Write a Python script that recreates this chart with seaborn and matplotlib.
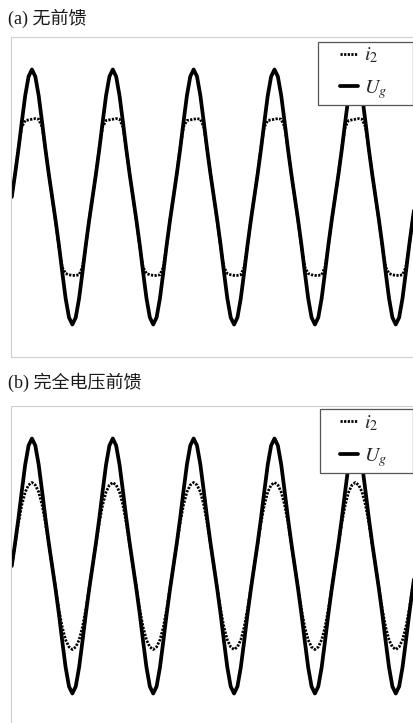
import numpy as np
import pandas as pd
import matplotlib
matplotlib.use("Agg")
import matplotlib.pyplot as plt
from matplotlib.patches import Rectangle
import seaborn as sns

# sample step: 15 deg of a 50 Hz period (s)
DT = 0.02 / 24

# grid voltage U_g, per unit of its peak (5 periods, same in both panels)
ug = [
    0, .18, .375, .59, .795, .945, 1.0, .945, .795, .59, .375, .18,
    0, -.18, -.375, -.59, -.795, -.945, -1.0, -.945, -.795, -.59, -.375, -.18,
    0, .18, .375, .59, .795, .945, 1.0, .945, .795, .59, .375, .18,
    0, -.18, -.375, -.59, -.795, -.945, -1.0, -.945, -.795, -.59, -.375, -.18,
    0, .18, .375, .59, .795, .945, 1.0, .945, .795, .59, .375, .18,
    0, -.18, -.375, -.59, -.795, -.945, -1.0, -.945, -.795, -.59, -.375, -.18,
    0, .18, .375, .59, .795, .945, 1.0, .945, .795, .59, .375, .18,
    0, -.18, -.375, -.59, -.795, -.945, -1.0, -.945, -.795, -.59, -.375, -.18,
    0, .18, .375, .59, .795, .945, 1.0, .945, .795, .59, .375, .18,
    0, -.18, -.375, -.59, -.795, -.945, -1.0, -.945, -.795, -.59, -.375, -.18,
    0,
]

# (a) no feed-forward: grid current i_2, flattened tops
i2_a = [
    0, .19, .39, .55, .6, .605, .61, .615, .61, .55, .38, .18,
    0, -.19, -.39, -.55, -.6, -.61, -.615, -.615, -.61, -.55, -.38, -.18,
    0, .19, .39, .55, .6, .605, .61, .615, .61, .55, .38, .18,
    0, -.19, -.39, -.55, -.6, -.61, -.615, -.615, -.61, -.55, -.38, -.18,
    0, .19, .39, .55, .6, .605, .61, .615, .61, .55, .38, .18,
    0, -.19, -.39, -.55, -.6, -.61, -.615, -.615, -.61, -.55, -.38, -.18,
    0, .19, .39, .55, .6, .605, .61, .615, .61, .55, .38, .18,
    0, -.19, -.39, -.55, -.6, -.61, -.615, -.615, -.61, -.55, -.38, -.18,
    0, .19, .39, .55, .6, .605, .61, .615, .61, .55, .38, .18,
    0, -.19, -.39, -.55, -.6, -.61, -.615, -.615, -.61, -.55, -.38, -.18,
    0,
]

# (b) full voltage feed-forward: grid current i_2
i2_b = [
    0, .17, .34, .48, .58, .635, .655, .635, .58, .48, .34, .17,
    0, -.17, -.34, -.48, -.58, -.635, -.655, -.635, -.58, -.48, -.34, -.17,
    0, .17, .34, .48, .58, .635, .655, .635, .58, .48, .34, .17,
    0, -.17, -.34, -.48, -.58, -.635, -.655, -.635, -.58, -.48, -.34, -.17,
    0, .17, .34, .48, .58, .635, .655, .635, .58, .48, .34, .17,
    0, -.17, -.34, -.48, -.58, -.635, -.655, -.635, -.58, -.48, -.34, -.17,
    0, .17, .34, .48, .58, .635, .655, .635, .58, .48, .34, .17,
    0, -.17, -.34, -.48, -.58, -.635, -.655, -.635, -.58, -.48, -.34, -.17,
    0, .17, .34, .48, .58, .635, .655, .635, .58, .48, .34, .17,
    0, -.17, -.34, -.48, -.58, -.635, -.655, -.635, -.58, -.48, -.34, -.17,
    0,
]

panel_titles = ["(a) 无前馈", "(b) 完全电压前馈"]
series_labels = [r"$i_2$", r"$U_g$"]

sns.set_style("white")
plt.rcParams["font.family"] = ["Liberation Serif", "Noto Sans CJK SC"]
plt.rcParams["mathtext.fontset"] = "stix"

W, H = 414, 723
fig = plt.figure(figsize=(W / 100, H / 100), dpi=100)

t = np.arange(len(ug)) * DT


def px_axes(left, top, right, bottom):
    return fig.add_axes([left / W, 1 - bottom / H, (right - left) / W, (bottom - top) / H])


def draw_panel(ax, i2, title, title_y, box):
    df = pd.DataFrame({"t": t, "i2": i2, "ug": ug})
    sns.lineplot(data=df, x="t", y="i2", ax=ax, color="black", lw=2.0,
                 linestyle=(0, (0.8, 0.5)), label=series_labels[0], estimator=None)
    sns.lineplot(data=df, x="t", y="ug", ax=ax, color="black", lw=2.7,
                 label=series_labels[1], estimator=None)
    ax.set_xlim(-0.00018, 0.1005)
    ax.set_ylim(-1.255, 1.255)
    ax.set_xticks([])
    ax.set_yticks([])
    ax.set_xlabel("")
    ax.set_ylabel("")
    for sp in ax.spines.values():
        sp.set_color("#cfcfcf")
        sp.set_linewidth(0.8)

    # legend: wide frame drawn separately, entries placed inside it
    x0, y0, x1, y1 = box
    ax.add_patch(Rectangle((x0 / W, 1 - y1 / H), (x1 - x0) / W, (y1 - y0) / H,
                           transform=fig.transFigure, facecolor="white",
                           edgecolor="#555555", lw=0.9, zorder=5, clip_on=False))
    leg = ax.legend(loc="center left", bbox_to_anchor=(340 / W, 1 - (y0 + y1) / 2 / H),
                    bbox_transform=fig.transFigure, fontsize=14.5, frameon=False,
                    handlelength=0.9, handletextpad=0.3, borderpad=0,
                    labelspacing=0.62, borderaxespad=0)
    leg.set_zorder(6)
    fig.text(8 / W, 1 - title_y / H, title, fontsize=13, color="#1a1a1a",
             ha="left", va="center")


ax_a = px_axes(11, 37, 418, 357)
ax_b = px_axes(11, 406, 418, 726)
draw_panel(ax_a, i2_a, panel_titles[0], 18.5, (318, 42, 413, 105))
draw_panel(ax_b, i2_b, panel_titles[1], 382, (320, 409, 413, 473))

fig.savefig("out.png", dpi=100)
